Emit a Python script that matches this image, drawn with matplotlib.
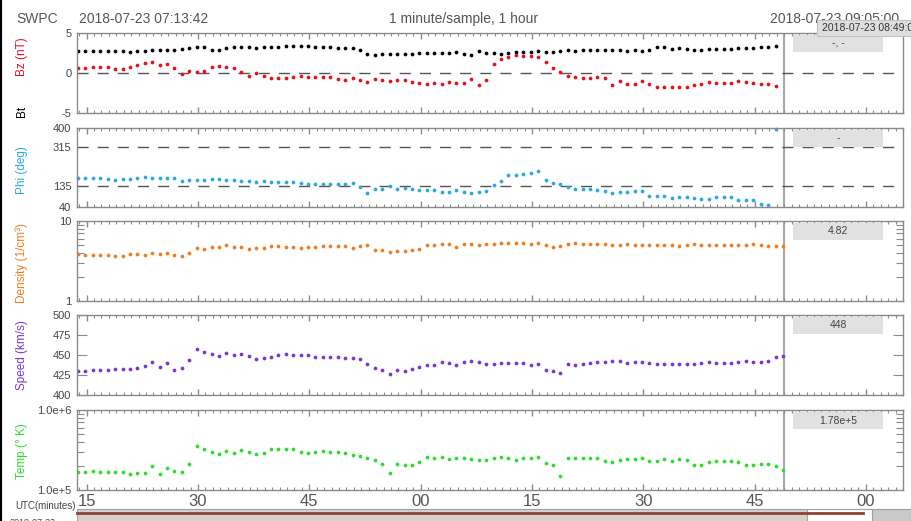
import pandas as pd
import matplotlib
matplotlib.use('Agg')
import matplotlib.pyplot as plt
import matplotlib.dates as mdates
from matplotlib.patches import Rectangle
from matplotlib.lines import Line2D
from matplotlib.ticker import LogLocator, NullFormatter

plt.rcParams['font.family'] = ['Liberation Sans', 'DejaVu Sans']

W, H = 911, 521

# ---- data (1 minute/sample) ----
start = '2018-07-23 07:13:50'
t_left = pd.Timestamp('2018-07-23 07:13:42')
t_right = pd.Timestamp('2018-07-23 09:05:00')
t_now = pd.Timestamp('2018-07-23 08:49:00')

bt = [2.71, 2.75, 2.79, 2.75, 2.75, 2.79, 2.71, 2.63, 2.71, 2.79, 2.83, 2.88, 2.88, 2.88, 3.0, 3.17,
      3.29, 3.21, 2.92, 2.88, 3.08, 3.25, 3.29, 3.25, 3.13, 3.25, 3.29, 3.29, 3.42, 3.42, 3.4, 3.42,
      3.29, 3.27, 3.25, 3.17, 3.1, 3.08, 2.88, 2.38, 2.29, 2.33, 2.38, 2.38, 2.38, 2.42, 2.46, 2.5,
      2.54, 2.54, 2.46, 2.67, 2.33, 2.29, 2.75, 2.46, 2.46, 2.42, 2.54, 2.58, 2.67, 2.58, 2.71, 2.63,
      2.63, 2.71, 2.83, 2.79, 2.88, 2.88, 2.92, 2.92, 2.92, 2.92, 2.75, 2.83, 2.75, 2.92, 3.21, 3.21,
      2.96, 3.17, 3.0, 2.83, 2.92, 3.04, 3.04, 3.04, 3.04, 3.17, 3.17, 3.17, 3.25, 3.25, 3.38]
bz = [0.67, 0.67, 0.75, 0.75, 0.71, 0.46, 0.46, 0.75, 0.96, 1.25, 1.33, 1.0, 1.13, 0.63, -0.13, 0.21,
      0.13, 0.29, 0.79, 0.88, 0.79, 0.67, 0.17, -0.33, 0.04, -0.38, -0.67, -0.67, -0.67, -0.46, -0.42, -0.54,
      -0.46, -0.54, -0.54, -0.71, -0.83, -0.58, -0.92, -1.08, -0.71, -0.88, -1.0, -0.92, -0.92, -1.17, -1.25, -1.33,
      -1.29, -1.33, -1.17, -1.25, -1.21, -0.75, -1.5, -0.92, 1.17, 1.79, 2.04, 2.21, 2.17, 2.13, 2.04, 1.38,
      0.63, 0.13, -0.33, -0.5, -0.63, -0.63, -0.5, -0.63, -1.5, -1.0, -1.33, -1.38, -1.0, -1.42, -1.71, -1.79,
      -1.71, -1.79, -1.79, -1.46, -1.33, -1.17, -1.25, -1.21, -1.21, -0.96, -1.17, -1.25, -1.38, -1.42, -1.58]
phi = [170.6, 170.6, 170.6, 170.6, 169, 164.5, 166, 169, 173.7, 176.7, 172, 172, 173.7, 170.6, 160, 163,
       161.5, 161.5, 166, 166, 163, 163, 160, 157, 154, 157, 154, 152.4, 152.4, 152.4, 149.4, 144.8,
       146.4, 146.4, 146.4, 146.4, 146.4, 150.9, 132.7, 102.3, 123.6, 123.6, 134.2, 120.5, 126.6, 120.5, 119, 117.5,
       116, 106.8, 106.8, 116, 109.9, 102.3, 108.4, 111.4, 140.3, 160, 184.3, 184.3, 188.9, 193.4, 202.5, 164.5,
       150.9, 143.3, 129.6, 123.6, 123.6, 123.6, 119, 114.5, 103.8, 109.9, 109.9, 111.4, 111.4, 91.7, 88.6, 88.6,
       81, 87, 85.6, 79.5, 76.5, 78, 85.6, 87, 84, 73.4, 70.4, 70.4, 55.2, 50.6, 397]

density = [3.83, 3.72, 3.76, 3.72, 3.76, 3.62, 3.65, 3.91, 3.91, 3.79, 3.94, 3.83, 3.94, 3.72, 3.69, 3.94,
           4.60, 4.51, 4.69, 4.69, 4.96, 4.73, 4.78, 4.47, 4.60, 4.60, 4.82, 4.82, 4.73, 4.73, 4.64, 4.69,
           4.73, 4.87, 4.82, 4.87, 4.82, 4.60, 4.87, 5.06, 4.30, 4.30, 4.14, 4.18, 4.26, 4.34, 4.43, 4.96,
           4.96, 5.11, 5.11, 4.78, 5.11, 5.11, 5.01, 5.16, 5.11, 5.31, 5.31, 5.36, 5.31, 5.21, 5.31, 5.01,
           4.78, 4.87, 5.21, 5.26, 5.16, 5.16, 5.16, 5.11, 5.01, 4.96, 5.16, 4.96, 4.96, 4.96, 4.96, 4.96,
           5.01, 4.82, 5.06, 5.21, 5.06, 5.01, 5.01, 5.01, 5.01, 5.01, 4.96, 5.11, 4.96, 4.87, 4.82, 4.82]
speed = [430.4, 430.4, 430.8, 430.8, 431.3, 432, 432, 432.9, 433.8, 436.3, 441.3, 435.4, 440.4, 431.7, 433.3, 443.3,
         457.5, 453.8, 450.8, 448.3, 452.9, 450, 451.3, 448.3, 445.4, 446.7, 447.1, 449.6, 451.7, 450.4, 449.6, 450.4,
         447.5, 447.9, 447.1, 447.1, 446.7, 445.8, 445, 438.8, 434.2, 430.8, 425.8, 431.3, 429.6, 432.5, 435, 437.5,
         437.9, 441.7, 439.6, 437.9, 441.3, 442.1, 440.8, 439.2, 439.2, 440, 440.4, 440, 440, 437.9, 438.8, 431.7,
         430, 427.1, 438.8, 437.1, 439.2, 440, 440.8, 440.8, 442.9, 442.1, 439.6, 440.8, 441.3, 440, 438.8, 439.2,
         439.2, 439.2, 438.3, 438.3, 440, 440.8, 439.6, 439.6, 439.6, 441.3, 442.1, 441.7, 441.7, 442.5, 447.5, 448.8]
temp = [1.66e5, 1.69e5, 1.71e5, 1.69e5, 1.69e5, 1.69e5, 1.69e5, 1.60e5, 1.62e5, 1.63e5, 1.98e5, 1.60e5, 1.87e5, 1.71e5, 1.69e5, 2.11e5,
        3.58e5, 3.22e5, 3.0e5, 2.83e5, 3.08e5, 2.91e5, 3.17e5, 3.0e5, 2.83e5, 2.91e5, 3.22e5, 3.22e5, 3.22e5, 3.22e5, 3.0e5, 2.9e5,
        2.99e5, 3.10e5, 3.01e5, 3.01e5, 2.90e5, 2.74e5, 2.69e5, 2.54e5, 2.37e5, 2.11e5, 1.65e5, 2.11e5, 2.07e5, 2.03e5, 2.24e5, 2.61e5,
        2.54e5, 2.58e5, 2.42e5, 2.49e5, 2.49e5, 2.44e5, 2.35e5, 2.37e5, 2.51e5, 2.61e5, 2.51e5, 2.35e5, 2.54e5, 2.54e5, 2.61e5, 2.15e5,
        2.03e5, 1.50e5, 2.54e5, 2.51e5, 2.49e5, 2.49e5, 2.51e5, 2.33e5, 2.24e5, 2.37e5, 2.42e5, 2.42e5, 2.49e5, 2.33e5, 2.30e5, 2.44e5,
        2.33e5, 2.42e5, 2.35e5, 2.03e5, 2.05e5, 2.24e5, 2.33e5, 2.33e5, 2.30e5, 2.24e5, 2.05e5, 2.06e5, 2.09e5, 2.09e5, 1.98e5, 1.78e5]

current_vals = ['-, -', '-', '4.82', '448', '1.78e+5']

t_mag = pd.date_range(start, periods=len(bt), freq='1min')
t_pla = pd.date_range(start, periods=len(speed), freq='1min')

c_bz = '#e3121f'
c_phi = '#27a9e1'
c_den = '#ee7d22'
c_spd = '#7b35d0'
c_tmp = '#2edb2e'
grey = '#8a8a8a'
txt = '#555555'


def frac(x0, y0, x1, y1):
    return [x0 / W, 1 - y1 / H, (x1 - x0) / W, (y1 - y0) / H]


def fx(x):
    return x / W


def fy(y):
    return 1 - y / H


fig = plt.figure(figsize=(W / 100, H / 100), dpi=100)

panels = [(33, 113), (128, 207), (221, 301), (315, 395), (410, 490)]
axes = [fig.add_axes(frac(77, top, 903, bot)) for top, bot in panels]

for ax in axes:
    ax.set_xlim(t_left, t_right)
    for s in ax.spines.values():
        s.set_color(grey)
        s.set_linewidth(1)
    ax.xaxis.set_major_locator(mdates.MinuteLocator(byminute=[0, 15, 30, 45]))
    ax.xaxis.set_minor_locator(mdates.MinuteLocator())
    ax.xaxis.set_major_formatter(mdates.DateFormatter('%M'))
    ax.tick_params(axis='x', which='both', direction='in', top=True, bottom=True,
                   color=grey, labelbottom=False)
    ax.tick_params(axis='x', which='major', length=4, width=1)
    ax.tick_params(axis='x', which='minor', length=2.5, width=0.8)
    ax.tick_params(axis='y', which='both', direction='in', left=True, right=True,
                   labelsize=8, labelcolor='#444444', color=grey, pad=4)
    ax.axvline(t_now, color='#a8a8a8', lw=1.5, zorder=1)

ms = 2.7
dash = dict(color='#555555', lw=1, dashes=(8, 6.5), zorder=1)

# Bz / Bt
ax = axes[0]
ax.axhline(0, **dash)
ax.plot(t_mag, bt, 'o', color='black', ms=ms, mew=0)
ax.plot(t_mag, bz, 'o', color=c_bz, ms=ms, mew=0)
ax.set_ylim(-5, 5)
ax.set_yticks([-5, 0, 5])
ax.set_yticklabels(['-5', '0', '5'])
ax.tick_params(axis='y', length=0)

# Phi
ax = axes[1]
ax.axhline(315, **dash)
ax.axhline(135, **dash)
ax.plot(t_mag, phi, 'o', color=c_phi, ms=ms, mew=0, clip_on=False)
ax.set_ylim(40, 400)
ax.set_yticks([40, 135, 315, 400])
ax.tick_params(axis='y', length=0)

# Density
ax = axes[2]
ax.plot(t_pla, density, 'o', color=c_den, ms=ms, mew=0)
ax.set_yscale('log')
ax.set_ylim(1, 10)
ax.set_yticks([1, 10])
ax.set_yticklabels(['1', '10'])
ax.yaxis.set_minor_locator(LogLocator(subs=range(2, 10)))
ax.yaxis.set_minor_formatter(NullFormatter())
ax.tick_params(axis='y', which='major', length=0)
ax.tick_params(axis='y', which='minor', length=5, width=0.8)

# Speed
ax = axes[3]
ax.plot(t_pla, speed, 'o', color=c_spd, ms=ms, mew=0)
ax.set_ylim(400, 500)
ax.set_yticks([400, 425, 450, 475, 500])
ax.tick_params(axis='y', length=7, width=0.8)

# Temp
ax = axes[4]
ax.plot(t_pla, temp, 'o', color=c_tmp, ms=ms, mew=0)
ax.set_yscale('log')
ax.set_ylim(1e5, 1e6)
ax.set_yticks([1e5, 1e6])
ax.set_yticklabels(['1.0e+5', '1.0e+6'])
ax.yaxis.set_minor_locator(LogLocator(subs=range(2, 10)))
ax.yaxis.set_minor_formatter(NullFormatter())
ax.tick_params(axis='y', which='major', length=0)
ax.tick_params(axis='y', which='minor', length=5, width=0.8)
ax.tick_params(axis='x', which='major', labelbottom=True, labelsize=12,
               labelcolor=txt, pad=3)

# current value boxes
for (top, bot), val in zip(panels, current_vals):
    fig.add_artist(Rectangle((fx(793), fy(top + 19)), (883 - 793) / W, 17 / H,
                             transform=fig.transFigure, fc='#e1e1e1', ec='none', zorder=4))
    fig.text(fx(838), fy(top + 10.5), val, ha='center', va='center', fontsize=7.5,
             color='#444444', zorder=5)

# y labels
ylabels = [('Bz (nT)', c_bz, 57), ('Bt', 'black', 111), ('Phi (deg)', c_phi, 170),
           ('Density (1/cm³)', c_den, 263), ('Speed (km/s)', c_spd, 355), ('Temp (° K)', c_tmp, 451)]
for label, col, yc in ylabels:
    fig.text(fx(22), fy(yc), label, rotation=90, ha='center', va='center', color=col, fontsize=8.5)

# header
fig.text(fx(16), fy(19), 'SWPC', ha='left', va='center', fontsize=10, color=txt)
fig.text(fx(79), fy(19), '2018-07-23 07:13:42', ha='left', va='center', fontsize=10, color=txt)
fig.text(fx(464), fy(19), '1 minute/sample, 1 hour', ha='center', va='center', fontsize=10, color=txt)
fig.text(fx(899), fy(19), '2018-07-23 09:05:00', ha='right', va='center', fontsize=10, color=txt)
fig.add_artist(Rectangle((fx(817), fy(36)), (915 - 817) / W, 16 / H, transform=fig.transFigure,
                         fc='#dedede', ec='#c4c4c4', lw=0.8, zorder=6))
fig.text(fx(822), fy(28), '2018-07-23 08:49:00', ha='left', va='center', fontsize=7.5,
         color='#333333', zorder=7)

# bottom time navigator
fig.text(fx(76), fy(506), 'UTC(minutes)', ha='right', va='center', fontsize=7, color='#444444')
fig.text(fx(10), fy(518), '2018-07-23', ha='left', va='top', fontsize=6.5, color='#444444')
fig.add_artist(Rectangle((fx(77), fy(522)), (807 - 77) / W, 13 / H, transform=fig.transFigure,
                         fc='#d8cfcd', ec='#a0a0a0', lw=0.8))
fig.add_artist(Rectangle((fx(807), fy(522)), (872 - 807) / W, 13 / H, transform=fig.transFigure,
                         fc='white', ec='#a0a0a0', lw=0.8))
fig.add_artist(Rectangle((fx(872), fy(522)), (911 - 872) / W, 13 / H, transform=fig.transFigure,
                         fc='#c9c9c9', ec='#a0a0a0', lw=0.8))
fig.add_artist(Line2D([fx(77), fx(863)], [fy(513), fy(513)], transform=fig.transFigure,
                      color='#8b4433', lw=2))

# left border
fig.add_artist(Line2D([fx(1), fx(1)], [0, 1], transform=fig.transFigure, color='black', lw=1.5))

fig.savefig('out.png', dpi=100)
